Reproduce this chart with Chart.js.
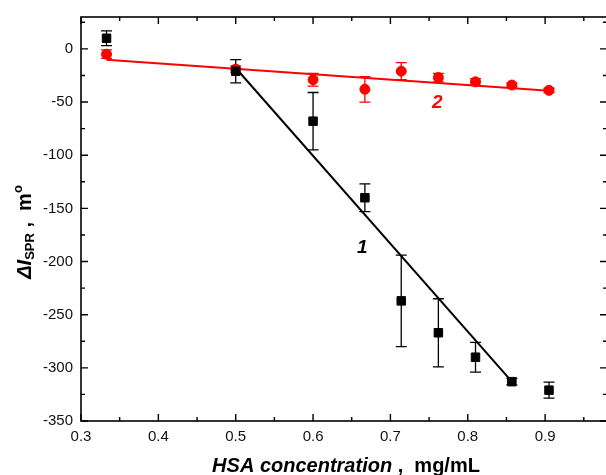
<!DOCTYPE html>
<html>
<head>
<meta charset="utf-8">
<script src="https://cdn.jsdelivr.net/npm/chart.js@4.4.0/dist/chart.umd.min.js"></script>
<style>
  html, body { margin: 0; padding: 0; background: #fff; overflow: hidden; }
  #wrap { width: 606px; height: 475px; overflow: hidden; }
</style>
</head>
<body>
<div id="wrap"><canvas id="chart" width="612" height="475"></canvas></div>
<script>
// HSA concentration, mg/mL
const concentration = [0.333, 0.5, 0.6, 0.667, 0.714, 0.762, 0.81, 0.857, 0.905];

// curve 1 (black squares)
const shift1 = [10, -21, -68, -140, -237, -267, -290, -313, -321];
const err1 = [7, 11, 27, 13, 43, 32, 14, 3, 7.5];

// curve 2 (red circles)
const shift2 = [-5, -19, -29, -38, -21, -27, -31, -34, -39];
const err2 = [4, 3, 6, 12, 8, 4, 3, 2, 2];

// linear fits
const fit1X = [0.5, 0.857];
const fit1Y = [-18, -313];
const fit2X = [0.333, 0.905];
const fit2Y = [-10.3, -39.3];

const xTicks = [0.3, 0.4, 0.5, 0.6, 0.7, 0.8, 0.9];
const yTicks = [-350, -300, -250, -200, -150, -100, -50, 0];

const FONT = '"Liberation Sans", Arial, sans-serif';
const RED = '#ff0000';

function points(xs, ys) {
  return xs.map((x, i) => ({ x, y: ys[i] }));
}

const errorBars = {
  id: 'errorBars',
  beforeDatasetsDraw(chart) {
    const { ctx, scales: { x, y } } = chart;
    chart.data.datasets.forEach((ds) => {
      if (!ds.errors) return;
      ctx.save();
      ctx.strokeStyle = ds.borderColor;
      ctx.lineWidth = 1.3;
      ds.data.forEach((pt, i) => {
        const px = x.getPixelForValue(pt.x);
        const top = y.getPixelForValue(pt.y + ds.errors[i]);
        const bottom = y.getPixelForValue(pt.y - ds.errors[i]);
        ctx.beginPath();
        ctx.moveTo(px, top); ctx.lineTo(px, bottom);
        ctx.moveTo(px - 5.5, top); ctx.lineTo(px + 5.5, top);
        ctx.moveTo(px - 5.5, bottom); ctx.lineTo(px + 5.5, bottom);
        ctx.stroke();
      });
      ctx.restore();
    });
  },
};

function drawParts(ctx, parts, startX) {
  let cx = startX;
  parts.forEach((p) => {
    ctx.font = p.font;
    ctx.fillText(p.text, cx, p.dy || 0);
    cx += ctx.measureText(p.text).width;
  });
}

function partsWidth(ctx, parts) {
  return parts.reduce((w, p) => {
    ctx.font = p.font;
    return w + ctx.measureText(p.text).width;
  }, 0);
}

const frame = {
  id: 'frame',
  afterDraw(chart) {
    const { ctx, chartArea: a, scales: { x, y } } = chart;
    ctx.save();
    ctx.strokeStyle = '#000';
    ctx.lineWidth = 1.6;
    ctx.strokeRect(a.left, a.top, a.right - a.left, a.bottom - a.top);

    ctx.lineWidth = 1.4;
    ctx.beginPath();
    const xStep = xTicks[1] - xTicks[0];
    xTicks.forEach((v) => {
      [[v, 7], [v + xStep / 2, 4]].forEach(([t, len]) => {
        if (t > x.max) return;
        const px = x.getPixelForValue(t);
        ctx.moveTo(px, a.bottom); ctx.lineTo(px, a.bottom - len);
        ctx.moveTo(px, a.top); ctx.lineTo(px, a.top + len);
      });
    });
    const yStep = yTicks[1] - yTicks[0];
    yTicks.forEach((v) => {
      [[v, 7], [v + yStep / 2, 4]].forEach(([t, len]) => {
        if (t > y.max) return;
        const py = y.getPixelForValue(t);
        ctx.moveTo(a.left, py); ctx.lineTo(a.left + len, py);
        ctx.moveTo(a.right, py); ctx.lineTo(a.right - len, py);
      });
    });
    ctx.stroke();

    // curve labels
    ctx.textAlign = 'center';
    ctx.textBaseline = 'middle';
    ctx.font = 'italic bold 19px ' + FONT;
    ctx.fillStyle = '#000';
    ctx.fillText('1', x.getPixelForValue(0.6635), y.getPixelForValue(-187));
    ctx.fillStyle = RED;
    ctx.fillText('2', x.getPixelForValue(0.7606), y.getPixelForValue(-50.3));

    // x title
    ctx.fillStyle = '#000';
    ctx.textAlign = 'left';
    ctx.textBaseline = 'alphabetic';
    const xParts = [
      { text: 'HSA concentration', font: 'italic bold 20px ' + FONT },
      { text: ' ,  mg/mL', font: 'bold 20px ' + FONT },
    ];
    const xw = partsWidth(ctx, xParts);
    ctx.save();
    ctx.translate(346, 472);
    drawParts(ctx, xParts, -xw / 2);
    ctx.restore();

    // y title
    const yParts = [
      { text: '\u0394I', font: 'italic bold 20px ' + FONT },
      { text: 'SPR', font: 'bold 13px ' + FONT, dy: 3 },
      { text: ' ,  m', font: 'bold 20px ' + FONT },
      { text: 'o', font: 'bold 13px ' + FONT, dy: -9 },
    ];
    const yw = partsWidth(ctx, yParts);
    ctx.save();
    ctx.translate(31, 232);
    ctx.rotate(-Math.PI / 2);
    drawParts(ctx, yParts, -yw / 2);
    ctx.restore();

    ctx.restore();
  },
};

new Chart(document.getElementById('chart'), {
  type: 'scatter',
  data: {
    datasets: [
      {
        label: '1',
        data: points(concentration, shift1),
        errors: err1,
        pointStyle: 'rect',
        pointRadius: 6,
        backgroundColor: '#000',
        borderColor: '#000',
        borderWidth: 1,
        order: 0,
      },
      {
        label: '2',
        data: points(concentration, shift2),
        errors: err2,
        pointStyle: 'circle',
        pointRadius: 5,
        backgroundColor: RED,
        borderColor: RED,
        borderWidth: 1,
        order: 0,
      },
      {
        label: 'fit 1',
        data: points(fit1X, fit1Y),
        showLine: true,
        pointRadius: 0,
        borderColor: '#000',
        borderWidth: 2,
        order: 1,
      },
      {
        label: 'fit 2',
        data: points(fit2X, fit2Y),
        showLine: true,
        pointRadius: 0,
        borderColor: RED,
        borderWidth: 2,
        order: 1,
      },
    ],
  },
  options: {
    responsive: false,
    animation: false,
    layout: { autoPadding: false, padding: { top: 15, right: 5, left: 0, bottom: 0 } },
    plugins: { legend: { display: false }, tooltip: { enabled: false } },
    scales: {
      x: {
        type: 'linear',
        min: 0.3,
        max: 0.98,
        afterBuildTicks: (scale) => { scale.ticks = xTicks.map((value) => ({ value })); },
        afterFit: (scale) => { scale.height = 54; },
        grid: { display: false, drawTicks: false },
        border: { display: false },
        ticks: {
          padding: 7,
          color: '#111',
          font: { family: FONT, size: 15 },
          callback: (v) => Number(v).toFixed(1),
        },
      },
      y: {
        type: 'linear',
        min: -350,
        max: 30,
        afterBuildTicks: (scale) => { scale.ticks = yTicks.map((value) => ({ value })); },
        afterFit: (scale) => { scale.width = 81; },
        grid: { display: false, drawTicks: false },
        border: { display: false },
        ticks: {
          padding: 8,
          color: '#111',
          font: { family: FONT, size: 15 },
          callback: (v) => String(v),
        },
      },
    },
  },
  plugins: [errorBars, frame],
});
</script>
</body>
</html>
